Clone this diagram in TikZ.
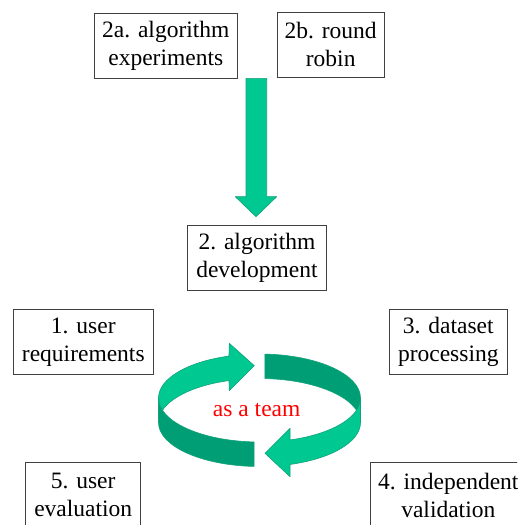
\documentclass[tikz,border=0pt]{standalone}
\usepackage{fontspec}
\setmainfont{Liberation Serif}
\newfontfamily\tnr{Liberation Serif}
\usetikzlibrary{calc}
\definecolor{lightgreen}{HTML}{00C891}
\definecolor{darkgreen}{HTML}{009E74}
\definecolor{edgegreen}{HTML}{12A27B}
\definecolor{boxline}{HTML}{404040}
\begin{document}
\begin{tikzpicture}[x=1pt,y=1pt,
  stepbox/.style={draw=boxline, line width=0.9pt, align=center, inner sep=0pt,
    font=\tnr\fontsize{23.5}{28}\selectfont, text=black},
  ribbon/.style={draw=edgegreen, line width=0.6pt, line join=round},
  er/.style={x radius=101pt, y radius=44pt}]
\clip (0,0) rectangle (517,-525);
\fill[white] (0,0) rectangle (517,-525);

% boxes
\node[stepbox, minimum width=143pt, minimum height=65pt] (b2a) at (165.8,-45.8) {2a. algorithm\\experiments};
\node[stepbox, minimum width=106.7pt, minimum height=65.3pt] (b2b) at (330.7,-44.7) {2b. round\\robin};
\node[stepbox, minimum width=138.6pt, minimum height=65pt] (b2) at (257,-257.8) {2. algorithm\\development};
\node[stepbox, minimum width=140pt, minimum height=65pt] (b1) at (83.3,-341.8) {1. user\\requirements};
\node[stepbox, minimum width=118pt, minimum height=65pt] (b3) at (448.3,-341.8) {3. dataset\\processing};
\node[stepbox, minimum width=115pt, minimum height=65pt] (b5) at (83.2,-495.2) {5. user\\evaluation};
\node[stepbox, minimum width=156pt, minimum height=65pt] (b4) at (448.3,-495.2) {4. independent\\validation};

% big down arrow
\filldraw[fill=lightgreen, ribbon]
  (246,-78.3) -- (266.7,-78.3) -- (266.7,-196.7) -- (276.7,-196.7)
  -- (256,-216.7) -- (235.3,-196.7) -- (246,-196.7) -- cycle;

% cycle ribbon
\coordinate (c1) at (259.5,-398);
\coordinate (c2) at (259.5,-422.5);
% back: top-left light arrow
\filldraw[fill=lightgreen, ribbon]
  ($(c1)+(107.6:101pt and 44pt)$) arc[start angle=107.6, end angle=180, er]
  -- ++(0,-24.5pt) arc[start angle=180, end angle=107.6, er]
  -- (229.3,-390.7) -- (254.3,-365.7) -- (229.3,-343.3) -- cycle;
% back: top-right dark
\filldraw[fill=darkgreen, ribbon]
  ($(c1)+(86.9:101pt and 44pt)$) arc[start angle=86.9, end angle=0, er]
  -- ++(0,-24.5pt) arc[start angle=0, end angle=86.9, er] -- cycle;
% front: bottom-left dark
\filldraw[fill=darkgreen, ribbon]
  ($(c1)+(180:101pt and 44pt)$) arc[start angle=180, end angle=266.9, er]
  -- ++(0,-24.5pt) arc[start angle=266.9, end angle=180, er] -- cycle;
% front: bottom-right light arrow
\filldraw[fill=lightgreen, ribbon]
  ($(c1)+(0:101pt and 44pt)$) arc[start angle=0, end angle=-72.4, er]
  -- (290,-428.3) -- (265,-453.3) -- (290,-476.7)
  -- ($(c2)+(-72.4:101pt and 44pt)$) arc[start angle=-72.4, end angle=0, er] -- cycle;

\node[text=red, font=\tnr\fontsize{23.5}{28}\selectfont] (team) at (256.7,-410) {as a team};
\end{tikzpicture}
\end{document}
